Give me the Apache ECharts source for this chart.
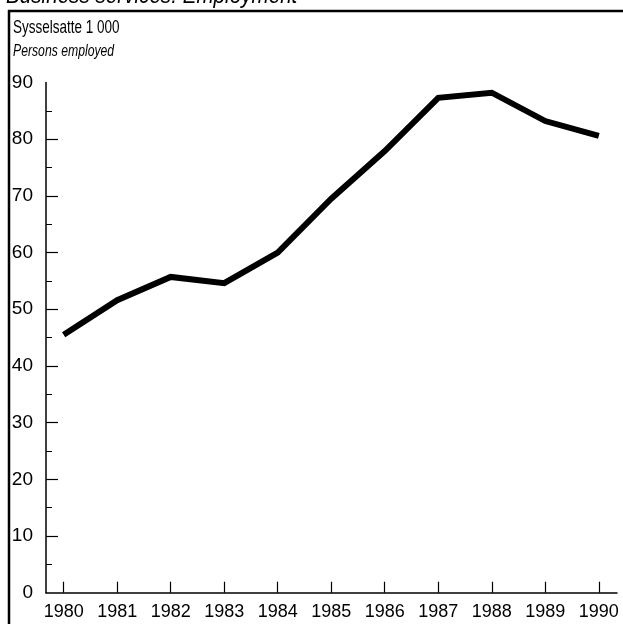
<!DOCTYPE html>
<html>
<head>
<meta charset="utf-8">
<script src="https://cdn.jsdelivr.net/npm/echarts@6/dist/echarts.min.js"></script>
<style>html,body{margin:0;padding:0;background:#fff}#c{width:623px;height:624px}</style>
</head>
<body>
<div id="c"></div>
<script>
const years = [1980, 1981, 1982, 1983, 1984, 1985, 1986, 1987, 1988, 1989, 1990];
const employed = [45.5, 51.6, 55.7, 54.6, 60.0, 69.5, 77.9, 87.3, 88.2, 83.2, 80.6];
const yMajorTicks = [10, 20, 30, 40, 50, 60, 70, 80];
const yMinorTicks = [5, 15, 25, 35, 45, 55, 65, 75, 85];
const yLabels = [0, 10, 20, 30, 40, 50, 60, 70, 80, 90];
const titleText = 'Business services. Employment';
const unitText = 'Sysselsatte 1 000';
const unitTextEn = 'Persons employed';

const font = '"Liberation Sans", Arial, Helvetica, sans-serif';
const chart = echarts.init(document.getElementById('c'), null, {renderer: 'canvas'});
chart.setOption({
  animation: false,
  backgroundColor: '#fff',
  grid: {left: 46, right: 6, top: 82.5, bottom: 31.3, containLabel: false},
  xAxis: {
    type: 'value', min: 1979.67, max: 1990.34,
    axisLine: {show: true, onZero: false, lineStyle: {color: '#000', width: 1.5}},
    axisTick: {show: true, inside: true, length: 11, customValues: years, lineStyle: {color: '#000', width: 1.2}},
    axisLabel: {show: true, customValues: years, color: '#000', fontFamily: font, fontSize: 18, margin: 10,
      formatter: v => String(Math.round(v))},
    splitLine: {show: false}
  },
  yAxis: [{
    type: 'value', min: 0, max: 90, interval: 10,
    axisLine: {show: true, lineStyle: {color: '#000', width: 1.5}},
    axisTick: {show: true, inside: true, length: 12, customValues: yMajorTicks, lineStyle: {color: '#000', width: 1.2}},
    axisLabel: {show: true, customValues: yLabels, color: '#000', fontFamily: font, fontSize: 19, margin: 13},
    splitLine: {show: false}
  }, {
    type: 'value', min: 0, max: 90, position: 'left',
    axisLine: {show: false},
    axisTick: {show: true, inside: true, length: 6, customValues: yMinorTicks, lineStyle: {color: '#000', width: 1}},
    axisLabel: {show: false},
    splitLine: {show: false}
  }],
  series: [{
    type: 'line',
    data: years.map((y, i) => [y, employed[i]]),
    showSymbol: false,
    lineStyle: {color: '#000', width: 6, join: 'miter'},
    z: 5
  }],
  graphic: [
    {type: 'text', x: 6, y: -3.5, scaleX: 0.86, style: {text: titleText, font: 'italic 24px ' + font, fill: '#000', verticalAlign: 'middle'}},
    {type: 'line', shape: {x1: 8, y1: 11, x2: 623, y2: 11}, style: {stroke: '#000', lineWidth: 2.5}},
    {type: 'line', shape: {x1: 9, y1: 10, x2: 9, y2: 624}, style: {stroke: '#000', lineWidth: 2.5}},
    {type: 'text', x: 13, y: 28, scaleX: 0.71, style: {text: unitText, font: '19px ' + font, fill: '#000', verticalAlign: 'middle'}},
    {type: 'text', x: 13, y: 51, scaleX: 0.74, style: {text: unitTextEn, font: 'italic 16.5px ' + font, fill: '#000', verticalAlign: 'middle'}}
  ]
});
</script>
</body>
</html>
